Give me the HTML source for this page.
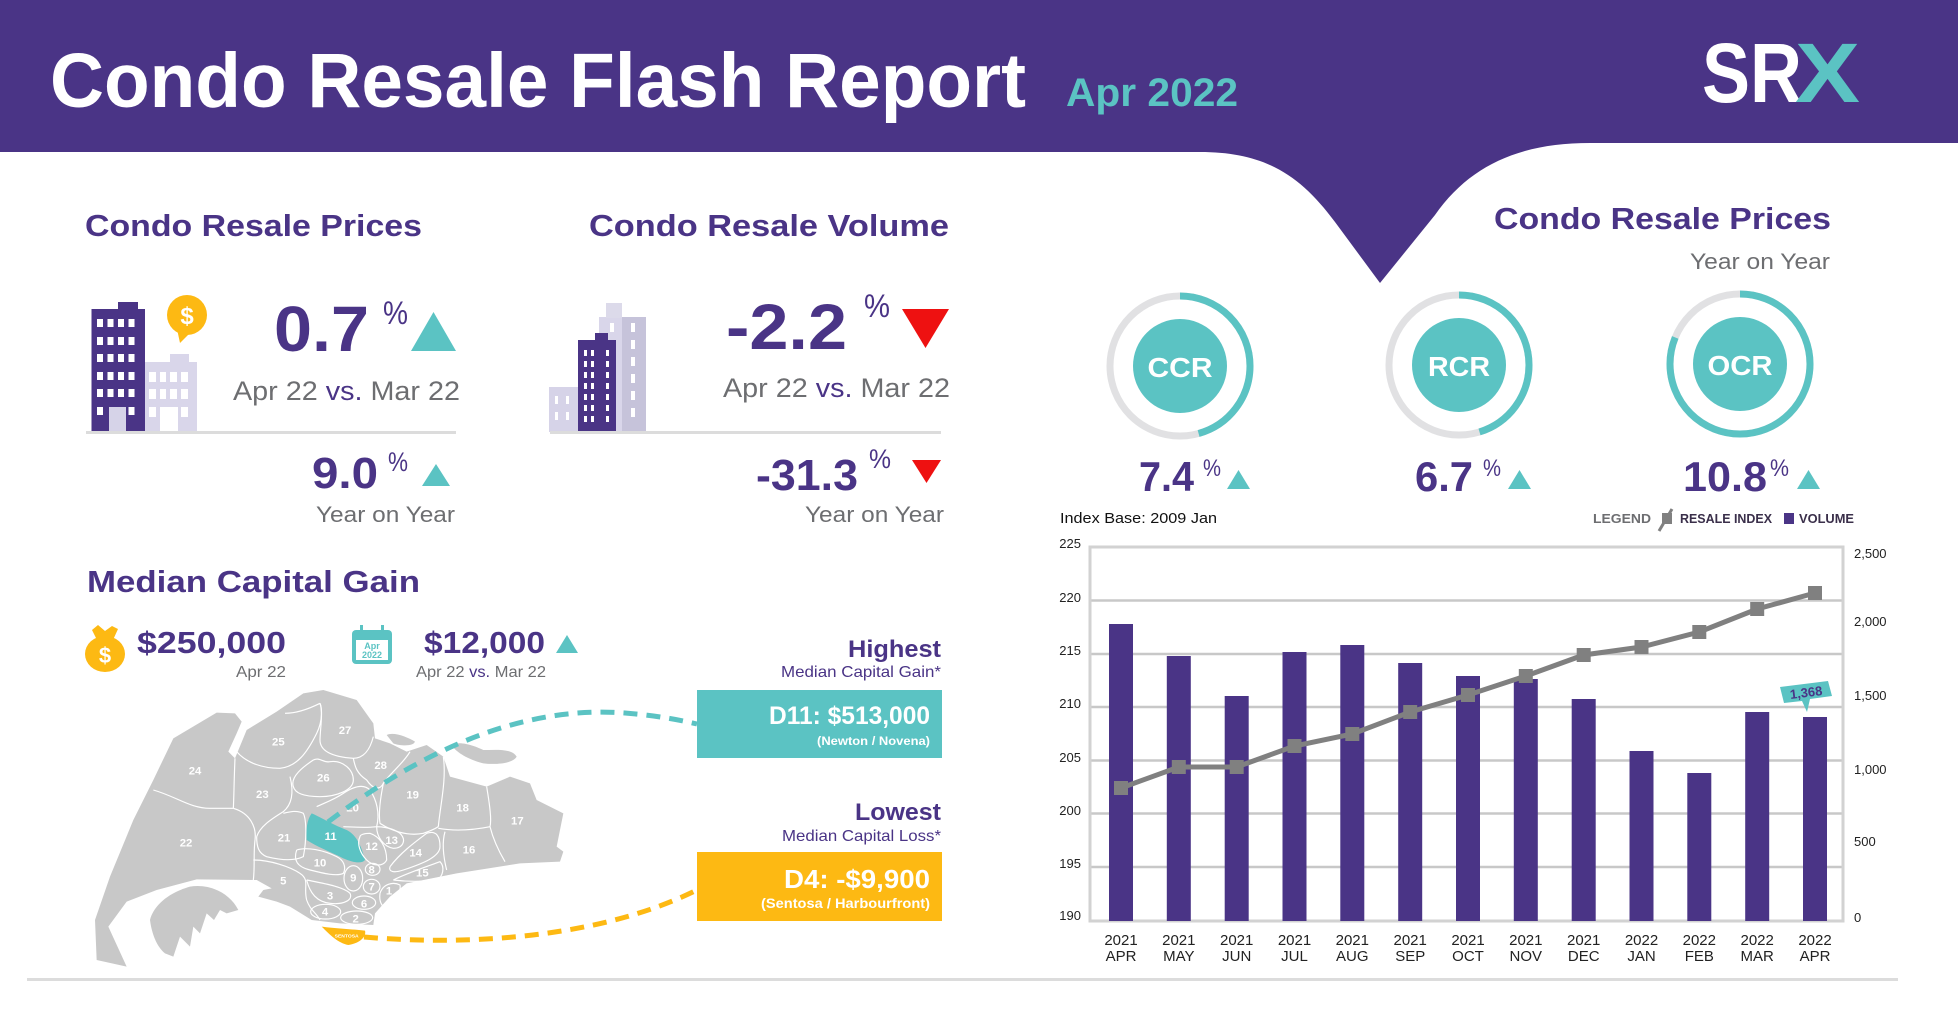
<!DOCTYPE html>
<html><head><meta charset="utf-8">
<style>
html,body{margin:0;padding:0;background:#fff;}
svg{display:block;}
text{font-family:"Liberation Sans",sans-serif;}
</style></head><body>
<svg width="1958" height="1025" viewBox="0 0 1958 1025" xmlns="http://www.w3.org/2000/svg">
<rect width="1958" height="1025" fill="#fff"/>
<!-- header -->
<path d="M0 0 H1958 V143 H1590 C1520 143 1470 165 1435 215 L1380 283 L1335 222 C1300 175 1265 152 1200 152 H0 Z" fill="#4a3486"/>
<text x="50" y="107" font-size="77" font-weight="bold" fill="#fff" textLength="976" lengthAdjust="spacingAndGlyphs">Condo Resale Flash Report</text>
<text x="1066" y="106" font-size="40" font-weight="bold" fill="#5bc3c3" textLength="172" lengthAdjust="spacingAndGlyphs">Apr 2022</text>
<text x="1702" y="102" font-size="84" font-weight="bold" fill="#fff" textLength="100" lengthAdjust="spacingAndGlyphs">SR</text>
<text x="1795" y="102" font-size="84" font-weight="bold" fill="#5bc3c3" textLength="65" lengthAdjust="spacingAndGlyphs">X</text>

<!-- Left headings -->
<text x="85" y="236" font-size="31" font-weight="bold" fill="#4a3486" textLength="337" lengthAdjust="spacingAndGlyphs">Condo Resale Prices</text>
<text x="589" y="236" font-size="31" font-weight="bold" fill="#4a3486" textLength="360" lengthAdjust="spacingAndGlyphs">Condo Resale Volume</text>

<!-- price building icon -->
<rect x="91.5" y="309" width="53.5" height="123" fill="#4a3486"/>
<rect x="118" y="302" width="20" height="8" fill="#4a3486"/>
<g fill="#fff">
<rect x="97" y="319" width="6" height="8"/><rect x="107.5" y="319" width="6" height="8"/><rect x="118" y="319" width="6" height="8"/><rect x="128.5" y="319" width="6" height="8"/>
<rect x="97" y="337" width="6" height="8"/><rect x="107.5" y="337" width="6" height="8"/><rect x="118" y="337" width="6" height="8"/><rect x="128.5" y="337" width="6" height="8"/>
<rect x="97" y="354" width="6" height="8"/><rect x="107.5" y="354" width="6" height="8"/><rect x="118" y="354" width="6" height="8"/><rect x="128.5" y="354" width="6" height="8"/>
<rect x="97" y="372" width="6" height="8"/><rect x="107.5" y="372" width="6" height="8"/><rect x="118" y="372" width="6" height="8"/><rect x="128.5" y="372" width="6" height="8"/>
<rect x="97" y="389" width="6" height="8"/><rect x="107.5" y="389" width="6" height="8"/><rect x="118" y="389" width="6" height="8"/><rect x="128.5" y="389" width="6" height="8"/>
<rect x="97" y="407" width="6" height="8"/><rect x="128.5" y="407" width="6" height="8"/>
</g>
<rect x="109" y="407" width="17" height="25" fill="#d6d3e8"/>
<rect x="145" y="362" width="52" height="70" fill="#d9d6ea"/>
<rect x="170" y="354" width="19" height="9" fill="#d9d6ea"/>
<g fill="#fff">
<rect x="149" y="372" width="7" height="10"/><rect x="160" y="372" width="6" height="10"/><rect x="170" y="372" width="7" height="10"/><rect x="181" y="372" width="7" height="10"/>
<rect x="149" y="389" width="7" height="10"/><rect x="160" y="389" width="6" height="10"/><rect x="170" y="389" width="7" height="10"/><rect x="181" y="389" width="7" height="10"/>
<rect x="149" y="407" width="7" height="10"/><rect x="181" y="407" width="7" height="10"/>
<rect x="160" y="407" width="18" height="25"/>
</g>
<circle cx="187" cy="315" r="20" fill="#fdb913"/>
<polygon points="177,329 191,332 180,343" fill="#fdb913"/>
<text x="187" y="324" font-size="24" font-weight="bold" fill="#fff" text-anchor="middle">$</text>

<text x="274" y="351" font-size="64" font-weight="bold" fill="#4a3486" textLength="95" lengthAdjust="spacingAndGlyphs">0.7</text>
<text x="383" y="324" font-size="32" fill="#4a3486" textLength="25" lengthAdjust="spacingAndGlyphs">%</text>
<polygon points="411,351 456,351 433.5,312" fill="#5bc3c3"/>
<text x="233" y="400" font-size="27" fill="#6d6e71" textLength="227" lengthAdjust="spacingAndGlyphs">Apr 22 <tspan fill="#4a3486">vs.</tspan> Mar 22</text>
<rect x="86" y="431" width="370" height="3" fill="#dcdcdc"/>
<text x="312" y="488" font-size="44" font-weight="bold" fill="#4a3486" textLength="66" lengthAdjust="spacingAndGlyphs">9.0</text>
<text x="388" y="471" font-size="27" fill="#4a3486" textLength="20" lengthAdjust="spacingAndGlyphs">%</text>
<polygon points="422,486 450,486 436,464" fill="#5bc3c3"/>
<text x="316" y="522" font-size="22" fill="#6d6e71" textLength="139" lengthAdjust="spacingAndGlyphs">Year on Year</text>

<!-- volume building icon -->
<rect x="599" y="317" width="24" height="115" fill="#d9d6ea"/>
<rect x="622" y="317" width="24" height="115" fill="#c6c3da"/>
<rect x="606" y="303" width="16" height="15" fill="#dcdaea"/>
<g fill="#fff">
<rect x="631" y="323" width="4" height="9"/><rect x="631" y="340" width="4" height="9"/><rect x="631" y="357" width="4" height="9"/><rect x="631" y="374" width="4" height="9"/><rect x="631" y="391" width="4" height="9"/><rect x="631" y="408" width="4" height="9"/>
<rect x="610" y="323" width="4" height="9"/>
</g>
<rect x="549" y="387" width="32" height="45" fill="#d6d3e8"/>
<g fill="#fff"><rect x="555" y="396" width="3" height="8"/><rect x="555" y="412" width="3" height="8"/><rect x="566" y="396" width="3" height="8"/><rect x="566" y="412" width="3" height="8"/></g>
<rect x="578" y="340" width="38" height="92" fill="#4a3486"/>
<rect x="595" y="333" width="13" height="8" fill="#4a3486"/>
<g fill="#fff">
<rect x="584" y="350" width="3" height="6"/><rect x="591" y="350" width="3" height="6"/><rect x="606" y="350" width="3" height="6"/>
<rect x="584" y="361" width="3" height="6"/><rect x="591" y="361" width="3" height="6"/><rect x="606" y="361" width="3" height="6"/>
<rect x="584" y="372" width="3" height="6"/><rect x="591" y="372" width="3" height="6"/><rect x="606" y="372" width="3" height="6"/>
<rect x="584" y="383" width="3" height="6"/><rect x="591" y="383" width="3" height="6"/><rect x="606" y="383" width="3" height="6"/>
<rect x="584" y="394" width="3" height="6"/><rect x="591" y="394" width="3" height="6"/><rect x="606" y="394" width="3" height="6"/>
<rect x="584" y="405" width="3" height="6"/><rect x="591" y="405" width="3" height="6"/><rect x="606" y="405" width="3" height="6"/>
<rect x="584" y="416" width="3" height="6"/><rect x="591" y="416" width="3" height="6"/><rect x="606" y="416" width="3" height="6"/>
</g>

<text x="726" y="349" font-size="64" font-weight="bold" fill="#4a3486" textLength="121" lengthAdjust="spacingAndGlyphs">-2.2</text>
<text x="864" y="317" font-size="32" fill="#4a3486" textLength="26" lengthAdjust="spacingAndGlyphs">%</text>
<polygon points="902,309 949,309 925.5,348" fill="#ee1111"/>
<text x="723" y="397" font-size="27" fill="#6d6e71" textLength="227" lengthAdjust="spacingAndGlyphs">Apr 22 <tspan fill="#4a3486">vs.</tspan> Mar 22</text>
<rect x="550" y="431" width="391" height="3" fill="#dcdcdc"/>
<text x="756" y="490" font-size="44" font-weight="bold" fill="#4a3486" textLength="102" lengthAdjust="spacingAndGlyphs">-31.3</text>
<text x="869" y="468" font-size="27" fill="#4a3486" textLength="22" lengthAdjust="spacingAndGlyphs">%</text>
<polygon points="912,460 941,460 926.5,483" fill="#ee1111"/>
<text x="805" y="522" font-size="22" fill="#6d6e71" textLength="139" lengthAdjust="spacingAndGlyphs">Year on Year</text>

<!-- Median Capital Gain -->
<text x="87" y="592" font-size="31" font-weight="bold" fill="#4a3486" textLength="333" lengthAdjust="spacingAndGlyphs">Median Capital Gain</text>
<ellipse cx="105" cy="654" rx="20" ry="18" fill="#fdb913"/>
<polygon points="97,640 113,640 118,629 112,626 105,631 98,625 92,630" fill="#fdb913"/>
<text x="105" y="663" font-size="22" font-weight="bold" fill="#fff" text-anchor="middle">$</text>
<text x="137" y="653" font-size="31" font-weight="bold" fill="#4a3486" textLength="149" lengthAdjust="spacingAndGlyphs">$250,000</text>
<text x="236" y="677" font-size="16" fill="#6d6e71" textLength="50" lengthAdjust="spacingAndGlyphs">Apr 22</text>
<rect x="352" y="630" width="40" height="34" rx="4" fill="#5bc3c3"/>
<rect x="356" y="640" width="32" height="20" fill="#fff"/>
<rect x="360" y="625" width="3" height="9" fill="#5bc3c3"/><rect x="381" y="625" width="3" height="9" fill="#5bc3c3"/>
<text x="372" y="649" font-size="9" font-weight="bold" fill="#5bc3c3" text-anchor="middle">Apr</text>
<text x="372" y="658" font-size="9" font-weight="bold" fill="#5bc3c3" text-anchor="middle">2022</text>
<text x="424" y="653" font-size="31" font-weight="bold" fill="#4a3486" textLength="121" lengthAdjust="spacingAndGlyphs">$12,000</text>
<polygon points="556,653 578,653 567,635" fill="#5bc3c3"/>
<text x="416" y="677" font-size="16" fill="#6d6e71" textLength="130" lengthAdjust="spacingAndGlyphs">Apr 22 <tspan fill="#4a3486">vs.</tspan> Mar 22</text>

<text x="941" y="657" font-size="24" font-weight="bold" fill="#4a3486" text-anchor="end" textLength="93" lengthAdjust="spacingAndGlyphs">Highest</text>
<text x="941" y="677" font-size="16" fill="#4a3486" text-anchor="end" textLength="160" lengthAdjust="spacingAndGlyphs">Median Capital Gain*</text>
<rect x="697" y="690" width="245" height="68" fill="#5bc3c3"/>
<text x="930" y="724" font-size="25" font-weight="bold" fill="#fff" text-anchor="end" textLength="161" lengthAdjust="spacingAndGlyphs">D11: $513,000</text>
<text x="930" y="745" font-size="12" font-weight="bold" fill="#fff" text-anchor="end" textLength="113" lengthAdjust="spacingAndGlyphs">(Newton / Novena)</text>
<text x="941" y="820" font-size="24" font-weight="bold" fill="#4a3486" text-anchor="end" textLength="86" lengthAdjust="spacingAndGlyphs">Lowest</text>
<text x="941" y="841" font-size="16" fill="#4a3486" text-anchor="end" textLength="159" lengthAdjust="spacingAndGlyphs">Median Capital Loss*</text>
<rect x="697" y="852" width="245" height="69" fill="#fdb913"/>
<text x="930" y="888" font-size="26" font-weight="bold" fill="#fff" text-anchor="end" textLength="146" lengthAdjust="spacingAndGlyphs">D4: -$9,900</text>
<text x="930" y="908" font-size="14" font-weight="bold" fill="#fff" text-anchor="end" textLength="169" lengthAdjust="spacingAndGlyphs">(Sentosa / Harbourfront)</text>

<!-- Map -->
<g transform="translate(90 680) scale(0.33333)">
<path d="M15,720 L60,590 L130,420 L190,300 L250,175 L380,98 L435,100 L455,125 L440,160 L415,215 L435,235 L470,150 L560,95 L640,40 L700,30 L800,60 L850,130 L855,175 L900,190 L950,215 L1010,195 L1060,230 L1080,290 L1190,320 L1260,290 L1320,310 L1340,360 L1420,400 L1400,500 L1420,515 L1410,545 L1290,550 L1100,580 L950,610 L900,650 L855,700 L850,735 L750,730 L665,720 L600,680 L560,665 L505,650 L520,630 L545,625 L500,600 L320,598 L200,630 L110,665 L55,740 L110,860 L20,840 Z" fill="#c8c8c8"/>
<path d="M180,720 C190,680 230,640 300,620 C360,610 420,640 445,690 L410,700 L390,690 L372,720 L350,700 L330,760 L310,740 L300,800 L270,770 L250,830 L225,820 C200,800 185,760 180,720 Z" fill="#c8c8c8"/>
<path d="M1085,195 C1110,180 1160,200 1180,210 C1220,210 1265,205 1280,230 C1270,250 1220,255 1180,250 C1140,240 1100,220 1085,195 Z" fill="#c8c8c8"/>
<path d="M890,165 C910,155 950,170 975,185 C970,200 930,198 910,190 Z" fill="#c8c8c8"/>
<path d="M665,400 C690,410 720,430 770,450 C800,465 815,500 825,540 C815,552 790,548 760,535 C720,515 680,500 650,480 C648,450 650,420 665,400 Z" fill="#5bc3c3"/>
<g fill="none" stroke="#fff" stroke-width="3.5">
<path d="M190,330 C260,350 300,385 360,385 L430,385"/>
<path d="M435,235 C432,300 432,350 430,385"/>
<path d="M430,385 C480,400 500,440 495,480 C490,520 495,560 490,600"/>
<path d="M440,215 C470,250 520,265 570,265 C620,260 650,220 680,160 C700,120 695,80 690,70"/>
<path d="M585,100 C620,100 660,85 690,70"/>
<path d="M690,70 C700,100 690,150 690,180 C690,210 720,230 790,235 C820,235 840,210 850,170"/>
<path d="M610,320 C600,290 640,260 670,240 C690,230 700,250 720,245 C760,240 790,270 790,300 C790,330 740,350 690,350 C640,350 615,340 610,320 Z"/>
<path d="M600,290 C610,330 610,370 580,395 C540,420 510,440 500,470"/>
<path d="M790,235 C795,260 800,280 830,300 C850,330 870,330 880,310 C900,280 940,250 960,215"/>
<path d="M680,380 C700,370 730,360 760,340 C790,320 820,310 840,330 C860,360 870,400 860,440 C820,445 780,440 760,440"/>
<path d="M1060,230 C1070,300 1050,380 1045,440"/>
<path d="M880,310 C870,360 865,400 870,430 C900,450 950,470 1000,460 C1030,450 1045,440 1045,440"/>
<path d="M1190,320 C1200,380 1205,420 1200,440 C1210,480 1230,520 1245,545"/>
<path d="M1045,445 C1100,455 1150,450 1200,440"/>
<path d="M1065,455 C1055,490 1060,530 1070,570"/>
<path d="M500,470 C500,500 505,520 530,530 C570,540 610,545 640,530 C650,480 650,420 640,400 C620,390 600,395 580,400"/>
<path d="M620,510 C610,540 620,560 660,570 C700,580 740,590 760,580 C770,560 760,540 740,530 C700,510 650,500 620,510"/>
<path d="M810,470 C800,490 810,520 830,540 C850,560 880,560 890,540 C890,500 870,470 840,460 C820,460 810,465 810,470 Z"/>
<path d="M860,440 C860,470 880,500 910,505 C940,505 950,480 930,460 C910,445 880,440 860,440"/>
<path d="M900,560 C930,520 970,490 1010,460 C1040,450 1050,470 1050,500 C1050,530 1000,550 940,570 C910,580 895,575 900,560"/>
<path d="M910,600 C950,580 1010,560 1050,545 C1065,560 1060,590 1040,600 C1000,605 950,605 910,600"/>
<path d="M490,540 C540,540 600,560 630,580 C660,600 640,620 650,660 C660,690 680,700 690,720"/>
<ellipse cx="790" cy="595" rx="28" ry="38"/>
<ellipse cx="848" cy="568" rx="22" ry="18"/>
<ellipse cx="845" cy="620" rx="25" ry="22"/>
<path d="M870,640 C880,610 910,605 930,615 C935,640 905,670 880,680 C870,670 868,655 870,640"/>
<ellipse cx="822" cy="668" rx="35" ry="20"/>
<path d="M650,600 C700,610 760,620 780,640 C790,660 760,675 720,670 C680,665 660,640 650,600"/>
<ellipse cx="707" cy="695" rx="45" ry="22"/>
<ellipse cx="800" cy="713" rx="48" ry="20"/>
</g>
<path d="M695,740 C730,745 790,748 825,752 C830,770 810,790 775,795 C745,790 720,765 695,740 Z" fill="#fdb913"/>
<text x="770" y="772" font-size="15" font-weight="bold" fill="#fff" text-anchor="middle">SENTOSA</text>
<g font-size="34" font-weight="bold" fill="#fff" text-anchor="middle">
<text x="765" y="162">27</text><text x="565" y="197">25</text><text x="315" y="284">24</text>
<text x="872" y="267">28</text><text x="700" y="304">26</text><text x="517" y="354">23</text>
<text x="968" y="355">19</text><text x="1118" y="394">18</text><text x="788" y="394">20</text>
<text x="1282" y="434">17</text><text x="288" y="500">22</text><text x="582" y="484">21</text>
<text x="722" y="480">11</text><text x="845" y="510">12</text><text x="905" y="492">13</text>
<text x="977" y="530">14</text><text x="1137" y="520">16</text><text x="690" y="560">10</text>
<text x="845" y="580">8</text><text x="997" y="590">15</text><text x="580" y="614">5</text>
<text x="790" y="604">9</text><text x="845" y="632">7</text><text x="897" y="644">1</text>
<text x="720" y="659">3</text><text x="822" y="682">6</text><text x="705" y="707">4</text>
<text x="797" y="727">2</text>
</g>
</g>
<path d="M328,822 C420,752 520,705 625,713 C660,716 680,720 697,724" fill="none" stroke="#5bc3c3" stroke-width="5" stroke-dasharray="14 9"/>
<path d="M364,937 C470,946 600,938 697,890" fill="none" stroke="#fdb913" stroke-width="5" stroke-dasharray="14 9"/>

<rect x="27" y="978" width="1871" height="3" fill="#dcdcdc"/>

<!-- Right section -->
<text x="1494" y="229" font-size="31" font-weight="bold" fill="#4a3486" textLength="337" lengthAdjust="spacingAndGlyphs">Condo Resale Prices</text>
<text x="1690" y="269" font-size="22" fill="#6d6e71" textLength="140" lengthAdjust="spacingAndGlyphs">Year on Year</text>

<g fill="none" stroke-width="7">
<circle cx="1180" cy="366" r="70" stroke="#e1e1e3"/>
<circle cx="1180" cy="366" r="70" stroke="#5bc3c3" stroke-dasharray="201 1000" transform="rotate(-90 1180 366)"/>
<circle cx="1459" cy="365" r="70" stroke="#e1e1e3"/>
<circle cx="1459" cy="365" r="70" stroke="#5bc3c3" stroke-dasharray="199 1000" transform="rotate(-90 1459 365)"/>
<circle cx="1740" cy="364" r="70" stroke="#e1e1e3"/>
<circle cx="1740" cy="364" r="70" stroke="#5bc3c3" stroke-dasharray="357 1000" transform="rotate(-90 1740 364)"/>
</g>
<circle cx="1180" cy="366" r="47" fill="#5bc3c3"/>
<circle cx="1459" cy="365" r="47" fill="#5bc3c3"/>
<circle cx="1740" cy="364" r="47" fill="#5bc3c3"/>
<text x="1180" y="377" font-size="28" font-weight="bold" fill="#fff" text-anchor="middle" textLength="65" lengthAdjust="spacingAndGlyphs">CCR</text>
<text x="1459" y="376" font-size="28" font-weight="bold" fill="#fff" text-anchor="middle" textLength="62" lengthAdjust="spacingAndGlyphs">RCR</text>
<text x="1740" y="375" font-size="28" font-weight="bold" fill="#fff" text-anchor="middle" textLength="65" lengthAdjust="spacingAndGlyphs">OCR</text>

<text x="1139" y="491" font-size="42" font-weight="bold" fill="#4a3486" textLength="55" lengthAdjust="spacingAndGlyphs">7.4</text>
<text x="1203" y="476" font-size="24" fill="#4a3486" textLength="18" lengthAdjust="spacingAndGlyphs">%</text>
<polygon points="1227,489 1250,489 1238.5,470" fill="#5bc3c3"/>
<text x="1415" y="491" font-size="42" font-weight="bold" fill="#4a3486" textLength="58" lengthAdjust="spacingAndGlyphs">6.7</text>
<text x="1483" y="476" font-size="24" fill="#4a3486" textLength="18" lengthAdjust="spacingAndGlyphs">%</text>
<polygon points="1508,489 1531,489 1519.5,470" fill="#5bc3c3"/>
<text x="1683" y="491" font-size="42" font-weight="bold" fill="#4a3486" textLength="84" lengthAdjust="spacingAndGlyphs">10.8</text>
<text x="1770" y="476" font-size="24" fill="#4a3486" textLength="19" lengthAdjust="spacingAndGlyphs">%</text>
<polygon points="1797,489 1820,489 1808.5,470" fill="#5bc3c3"/>

<!-- Chart header -->
<text x="1060" y="523" font-size="15" fill="#111" textLength="157" lengthAdjust="spacingAndGlyphs">Index Base: 2009 Jan</text>
<text x="1593" y="523" font-size="13" font-weight="bold" fill="#6d6e71" textLength="58" lengthAdjust="spacingAndGlyphs">LEGEND</text>
<line x1="1659" y1="531" x2="1672" y2="509" stroke="#808080" stroke-width="3"/>
<rect x="1662" y="513" width="10" height="11" fill="#808080"/>
<text x="1680" y="523" font-size="13" font-weight="bold" fill="#3a2f4a" textLength="92" lengthAdjust="spacingAndGlyphs">RESALE INDEX</text>
<rect x="1784" y="513" width="10" height="11" fill="#4a3486"/>
<text x="1799" y="523" font-size="13" font-weight="bold" fill="#3a2f4a" textLength="55" lengthAdjust="spacingAndGlyphs">VOLUME</text>

<!-- Chart gridlines -->
<g stroke="#c8c8c8" stroke-width="2.5">
<line x1="1090" y1="600.5" x2="1843" y2="600.5"/>
<line x1="1090" y1="654" x2="1843" y2="654"/>
<line x1="1090" y1="707" x2="1843" y2="707"/>
<line x1="1090" y1="760.5" x2="1843" y2="760.5"/>
<line x1="1090" y1="813.5" x2="1843" y2="813.5"/>
<line x1="1090" y1="867" x2="1843" y2="867"/>
</g>
<rect x="1090" y="547" width="753" height="374" fill="none" stroke="#d2d2d2" stroke-width="3"/>

<!-- Bars -->
<g fill="#4a3486">
<rect x="1109" y="624" width="24" height="297"/>
<rect x="1166.8" y="656" width="24" height="265"/>
<rect x="1224.7" y="696" width="24" height="225"/>
<rect x="1282.5" y="652" width="24" height="269"/>
<rect x="1340.3" y="645" width="24" height="276"/>
<rect x="1398.2" y="663" width="24" height="258"/>
<rect x="1456" y="676" width="24" height="245"/>
<rect x="1513.8" y="679" width="24" height="242"/>
<rect x="1571.7" y="699" width="24" height="222"/>
<rect x="1629.5" y="751" width="24" height="170"/>
<rect x="1687.3" y="773" width="24" height="148"/>
<rect x="1745.2" y="712" width="24" height="209"/>
<rect x="1803" y="717" width="24" height="204"/>
</g>

<!-- Line -->
<polyline points="1121,788 1178.8,767 1236.7,767 1294.5,746 1352.3,734 1410.2,712 1468,695 1525.8,676 1583.7,655 1641.5,647 1699.3,632 1757.2,609 1815,593" fill="none" stroke="#808080" stroke-width="5"/>
<g fill="#808080">
<rect x="1114" y="781" width="14" height="14"/>
<rect x="1171.8" y="760" width="14" height="14"/>
<rect x="1229.7" y="760" width="14" height="14"/>
<rect x="1287.5" y="739" width="14" height="14"/>
<rect x="1345.3" y="727" width="14" height="14"/>
<rect x="1403.2" y="705" width="14" height="14"/>
<rect x="1461" y="688" width="14" height="14"/>
<rect x="1518.8" y="669" width="14" height="14"/>
<rect x="1576.7" y="648" width="14" height="14"/>
<rect x="1634.5" y="640" width="14" height="14"/>
<rect x="1692.3" y="625" width="14" height="14"/>
<rect x="1750.2" y="602" width="14" height="14"/>
<rect x="1808" y="586" width="14" height="14"/>
</g>

<!-- Callout -->
<polygon points="1780,687 1828,681 1832,696 1810,699 1807,712 1802,701 1784,703" fill="#5bc3c3"/>
<text x="1806" y="697" font-size="13" font-weight="bold" fill="#4a3486" text-anchor="middle" transform="rotate(-7 1806 692)">1,368</text>

<!-- Left axis labels -->
<g font-size="13" fill="#222" text-anchor="end">
<text x="1081" y="548">225</text>
<text x="1081" y="602">220</text>
<text x="1081" y="655">215</text>
<text x="1081" y="708">210</text>
<text x="1081" y="762">205</text>
<text x="1081" y="815">200</text>
<text x="1081" y="868">195</text>
<text x="1081" y="920">190</text>
</g>
<!-- Right axis labels -->
<g font-size="13" fill="#222">
<text x="1854" y="558">2,500</text>
<text x="1854" y="626">2,000</text>
<text x="1854" y="700">1,500</text>
<text x="1854" y="774">1,000</text>
<text x="1854" y="846">500</text>
<text x="1854" y="922">0</text>
</g>
<!-- X labels -->
<g font-size="15" fill="#222" text-anchor="middle">
<text x="1121" y="945">2021</text><text x="1121" y="961">APR</text>
<text x="1178.8" y="945">2021</text><text x="1178.8" y="961">MAY</text>
<text x="1236.7" y="945">2021</text><text x="1236.7" y="961">JUN</text>
<text x="1294.5" y="945">2021</text><text x="1294.5" y="961">JUL</text>
<text x="1352.3" y="945">2021</text><text x="1352.3" y="961">AUG</text>
<text x="1410.2" y="945">2021</text><text x="1410.2" y="961">SEP</text>
<text x="1468" y="945">2021</text><text x="1468" y="961">OCT</text>
<text x="1525.8" y="945">2021</text><text x="1525.8" y="961">NOV</text>
<text x="1583.7" y="945">2021</text><text x="1583.7" y="961">DEC</text>
<text x="1641.5" y="945">2022</text><text x="1641.5" y="961">JAN</text>
<text x="1699.3" y="945">2022</text><text x="1699.3" y="961">FEB</text>
<text x="1757.2" y="945">2022</text><text x="1757.2" y="961">MAR</text>
<text x="1815" y="945">2022</text><text x="1815" y="961">APR</text>
</g>
</svg>
</body></html>
